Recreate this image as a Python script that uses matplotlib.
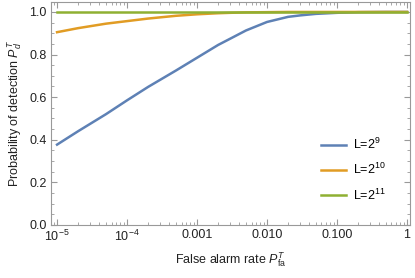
import numpy as np
import matplotlib
matplotlib.use("Agg")
import matplotlib.pyplot as plt
from matplotlib.ticker import LogLocator, MultipleLocator, NullFormatter

plt.rcParams['font.family'] = ['Liberation Sans', 'DejaVu Sans']
plt.rcParams['mathtext.fontset'] = 'custom'
plt.rcParams['mathtext.rm'] = 'Liberation Sans'
plt.rcParams['mathtext.it'] = 'Liberation Sans:italic'

# false alarm rate
pfa = [1e-5, 2e-5, 5e-5, 1e-4, 2e-4, 5e-4, 1e-3, 2e-3, 3e-3, 5e-3, 1e-2, 2e-2, 3e-2, 5e-2, 0.1, 0.2, 0.5, 1.0]
# detection probability for each L
pd_L9 = [0.377, 0.440, 0.520, 0.585, 0.648, 0.725, 0.785, 0.845, 0.875, 0.913, 0.953, 0.977, 0.984, 0.991, 0.996, 0.999, 1.0, 1.0]
pd_L10 = [0.905, 0.924, 0.945, 0.957, 0.969, 0.982, 0.989, 0.994, 0.996, 0.998, 0.999, 1.0, 1.0, 1.0, 1.0, 1.0, 1.0, 1.0]
pd_L11 = [1.0] * 18

labels = ['L=$2^{9}$', 'L=$2^{10}$', 'L=$2^{11}$']
colors = ['#5E81B5', '#E19C24', '#8FB032']

xtick_vals = [1e-5, 1e-4, 1e-3, 1e-2, 1e-1, 1]
xtick_labels = ['$10^{-5}$', '$10^{-4}$', '0.001', '0.010', '0.100', '1']

fig = plt.figure(figsize=(4.15, 2.78), dpi=100)
ax = fig.add_axes([0.123, 0.191, 0.865, 0.802])

for y, lab, c in zip([pd_L9, pd_L10, pd_L11], labels, colors):
    ax.plot(pfa, y, color=c, lw=1.8, label=lab)

ax.set_xscale('log')
ax.set_xlim(10**-5.086, 10**0.043)
ax.set_ylim(0, 1.047)

ax.set_xticks(xtick_vals)
ax.set_xticklabels(xtick_labels)
ax.xaxis.set_minor_locator(LogLocator(base=10, subs=np.arange(2, 10), numticks=20))
ax.xaxis.set_minor_formatter(NullFormatter())
ax.yaxis.set_major_locator(MultipleLocator(0.2))
ax.yaxis.set_minor_locator(MultipleLocator(0.05))
ax.set_yticks([0, 0.2, 0.4, 0.6, 0.8, 1.0])
ax.set_yticklabels(['0.0', '0.2', '0.4', '0.6', '0.8', '1.0'])

gray = '#999999'
for s in ax.spines.values():
    s.set_color(gray)
    s.set_linewidth(0.8)
ax.tick_params(which='both', direction='in', top=True, right=True, color=gray,
               labelsize=9, labelcolor='#222222', pad=3)
ax.tick_params(which='major', length=4, width=0.8)
ax.tick_params(which='minor', length=2, width=0.6)

ax.set_xlabel('False alarm rate $P_{\\mathrm{fa}}^{T}$', fontsize=9, color='#222222', labelpad=4)
ax.set_ylabel('Probability of detection $P_{d}^{T}$', fontsize=9, color='#222222', labelpad=4)

ax.legend(loc='lower right', bbox_to_anchor=(0.965, 0.05), frameon=False, fontsize=9,
          handlelength=2.0, handletextpad=0.6, labelspacing=0.8)

fig.savefig('out.png', dpi=100)
